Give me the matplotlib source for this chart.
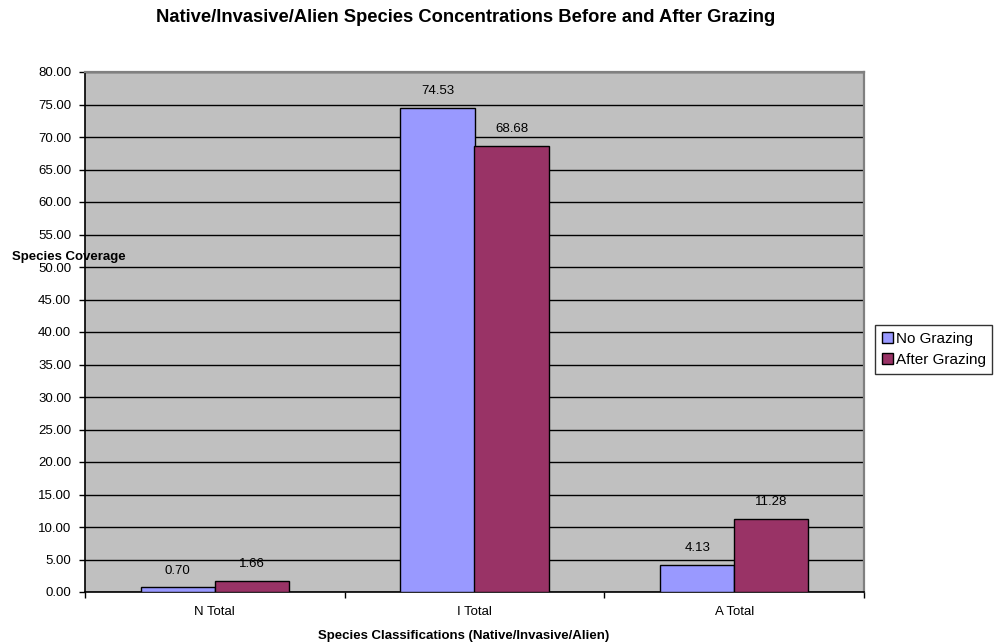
import matplotlib
matplotlib.use("Agg")
import matplotlib.pyplot as plt
import numpy as np

plt.rcParams['font.family'] = ['Liberation Sans', 'DejaVu Sans']

categories = ["N Total", "I Total", "A Total"]
no_grazing = [0.70, 74.53, 4.13]
after_grazing = [1.66, 68.68, 11.28]
series_names = ["No Grazing", "After Grazing"]
colors = ["#9999FF", "#993366"]

W, H = 995, 644
fig = plt.figure(figsize=(W / 100, H / 100), dpi=100)
left, right, top, bottom = 85, 864, 72, 592
ax = fig.add_axes([left / W, 1 - bottom / H, (right - left) / W, (bottom - top) / H])
ax.set_facecolor("#C0C0C0")

x = np.arange(len(categories))
w = 0.285
b1 = ax.bar(x - w / 2, no_grazing, w, color=colors[0], edgecolor="black", linewidth=1.0,
            label=series_names[0], zorder=3)
b2 = ax.bar(x + w / 2, after_grazing, w, color=colors[1], edgecolor="black", linewidth=1.0,
            label=series_names[1], zorder=3)

for bars, vals in ((b1, no_grazing), (b2, after_grazing)):
    for r, v in zip(bars, vals):
        ax.annotate(f"{v:.2f}", (r.get_x() + r.get_width() / 2, v), xytext=(0, 12.2),
                    textcoords="offset points", ha="center", va="center", fontsize=9.5)

ax.set_xlim(-0.5, 2.5)
ax.set_ylim(0, 80)
yt = np.arange(0, 80.1, 5)
ax.set_yticks(yt)
ax.set_yticklabels([f"{v:.2f}" for v in yt], fontsize=9.5)
ax.yaxis.grid(True, color="black", linewidth=1.0, zorder=1)
ax.set_axisbelow(True)

ax.set_xticks([-0.5, 0.5, 1.5, 2.5])
ax.set_xticklabels([])
ax.set_xticks(x, minor=True)
ax.set_xticklabels(categories, minor=True, fontsize=9.5)
ax.tick_params(axis="x", which="minor", length=0, pad=10)
ax.tick_params(axis="x", which="major", length=4, direction="out", width=1.0)
ax.tick_params(axis="y", length=4, direction="out", pad=6, width=1.0)

for s in ("top", "right"):
    ax.spines[s].set_color("#808080")
    ax.spines[s].set_linewidth(1.6)
for s in ("left", "bottom"):
    ax.spines[s].set_color("black")
    ax.spines[s].set_linewidth(1.2)

fig.text(466 / W, 1 - 18 / H,
         "Native/Invasive/Alien Species Concentrations Before and After Grazing",
         ha="center", va="center", fontsize=13.2, fontweight="bold")
fig.text(12 / W, 1 - 257 / H, "Species Coverage", ha="left", va="center",
         fontsize=9.5, fontweight="bold")
fig.text(464 / W, 1 - 636 / H, "Species Classifications (Native/Invasive/Alien)",
         ha="center", va="center", fontsize=9.5, fontweight="bold")

leg = fig.legend(loc="upper left", bbox_to_anchor=(875 / W, 1 - 325 / H), fontsize=11,
                 frameon=True, fancybox=False, edgecolor="black", borderpad=0.45,
                 handlelength=0.7, handleheight=0.7, handletextpad=0.2, labelspacing=0.45,
                 borderaxespad=0)
leg.get_frame().set_linewidth(1.0)

fig.savefig("out.png", dpi=100)
